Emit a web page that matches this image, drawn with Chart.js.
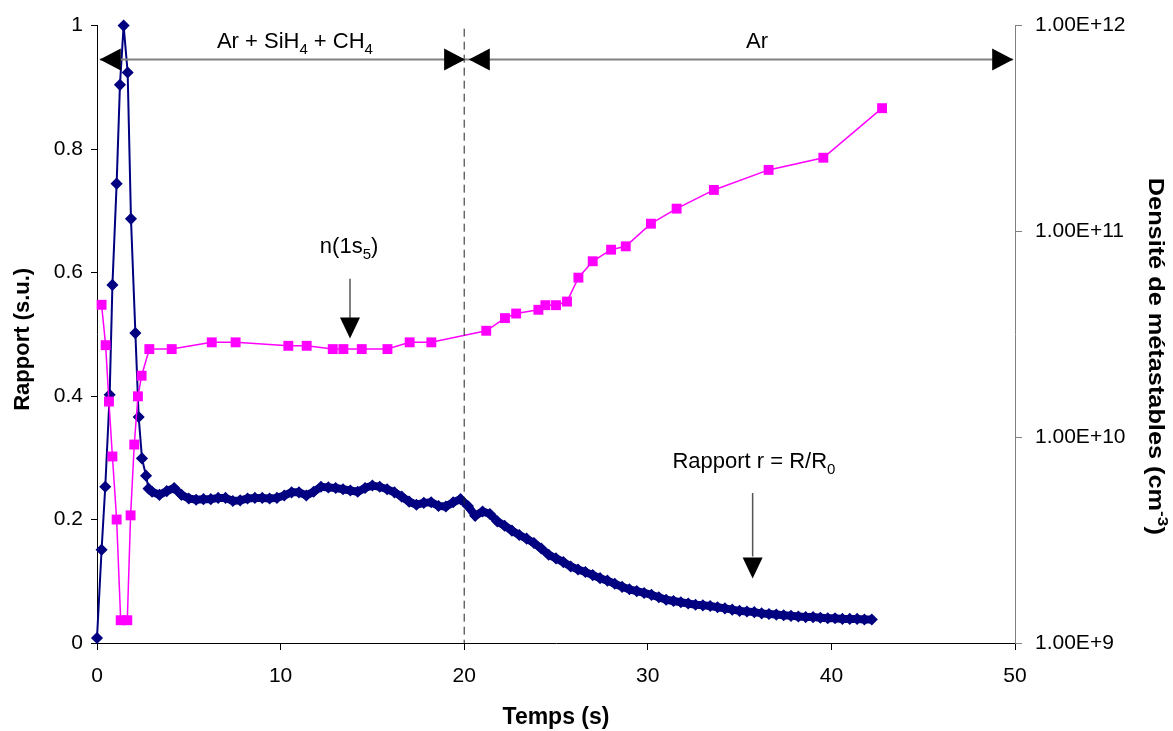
<!DOCTYPE html>
<html>
<head>
<meta charset="utf-8">
<script src="https://cdn.jsdelivr.net/npm/chart.js@4.4.0/dist/chart.umd.min.js"></script>
<style>
  html, body { margin: 0; padding: 0; background: #fff; }
</style>
</head>
<body>
<canvas id="myChart" width="1173" height="731"></canvas>
<script>
// Rapport r = R/R0 (axe de gauche)
const rapportTemps = [
  0.0, 0.25, 0.45, 0.69, 0.84, 1.07, 1.25, 1.45, 1.67, 1.85, 2.09, 2.27, 2.45, 2.67, 2.81,
  3.0, 3.4, 3.8, 4.2, 4.6, 5.0, 5.4, 5.8, 6.2, 6.6,
  7.0, 7.4, 7.8, 8.2, 8.6, 9.0, 9.4, 9.8, 10.2, 10.6,
  11.0, 11.4, 11.8, 12.2, 12.6, 13.0, 13.4, 13.8, 14.2, 14.6,
  15.0, 15.4, 15.8, 16.2, 16.6, 17.0, 17.4, 17.8, 18.2, 18.6,
  19.0, 19.4, 19.8, 20.2, 20.6, 21.0, 21.4, 21.8, 22.2, 22.6,
  23.0, 23.4, 23.8, 24.2, 24.6, 25.0, 25.4, 25.8, 26.2, 26.6,
  27.0, 27.4, 27.8, 28.2, 28.6, 29.0, 29.4, 29.8, 30.2, 30.6,
  31.0, 31.4, 31.8, 32.2, 32.6, 33.0, 33.4, 33.8, 34.2, 34.6,
  35.0, 35.4, 35.8, 36.2, 36.6, 37.0, 37.4, 37.8, 38.2, 38.6,
  39.0, 39.4, 39.8, 40.2, 40.6, 41.0, 41.4, 41.8, 42.2
];
const rapportValeurs = [
  0.008, 0.151, 0.253, 0.402, 0.58, 0.744, 0.904, 1.0, 0.924, 0.687, 0.502, 0.366, 0.299, 0.271, 0.25,
  0.245, 0.240, 0.246, 0.251, 0.240, 0.234, 0.232, 0.233, 0.233, 0.235,
  0.235, 0.230, 0.231, 0.234, 0.235, 0.235, 0.234, 0.235, 0.239, 0.244,
  0.244, 0.239, 0.245, 0.253, 0.252, 0.251, 0.249, 0.247, 0.245, 0.251,
  0.255, 0.253, 0.249, 0.244, 0.237, 0.229, 0.224, 0.227, 0.228, 0.222,
  0.221, 0.228, 0.233, 0.222, 0.206, 0.213, 0.209, 0.197, 0.190, 0.182,
  0.175, 0.169, 0.162, 0.153, 0.143, 0.137, 0.131, 0.124, 0.119, 0.115,
  0.110, 0.105, 0.101, 0.096, 0.091, 0.087, 0.084, 0.081, 0.078, 0.074,
  0.070, 0.068, 0.066, 0.064, 0.062, 0.061, 0.060, 0.058, 0.056, 0.054,
  0.052, 0.051, 0.050, 0.048, 0.047, 0.046, 0.045, 0.044, 0.043, 0.042,
  0.042, 0.041, 0.040, 0.040, 0.039, 0.039, 0.039, 0.038, 0.038
];

// Densite de metastables n(1s5) (axe de droite, log)
const densiteTemps = [
  0.25, 0.47, 0.65, 0.84, 1.07, 1.29, 1.65, 1.83, 2.03, 2.23, 2.43, 2.85, 4.07,
  6.25, 7.55, 10.42, 11.42, 12.84, 13.42, 14.42, 15.82, 17.03, 18.21,
  21.2, 22.22, 22.83, 24.04, 24.42, 25.0, 25.6, 26.22, 27.0, 28.0, 28.8,
  30.17, 31.57, 33.6, 36.58, 39.56, 42.76
];
const densiteValeurs = [
  4.40e10, 2.80e10, 1.49e10, 8.06e9, 3.98e9, 1.29e9, 1.29e9, 4.17e9, 9.21e9, 1.58e10, 1.99e10, 2.68e10, 2.68e10,
  2.89e10, 2.89e10, 2.78e10, 2.78e10, 2.68e10, 2.68e10, 2.68e10, 2.68e10, 2.89e10, 2.89e10,
  3.29e10, 3.79e10, 3.99e10, 4.16e10, 4.38e10, 4.38e10, 4.56e10, 5.96e10, 7.16e10, 8.15e10, 8.46e10,
  1.09e11, 1.29e11, 1.59e11, 1.99e11, 2.28e11, 3.97e11
];

const xTicks = [0, 10, 20, 30, 40, 50];
const yTicksGauche = [0, 0.2, 0.4, 0.6, 0.8, 1];
const yTicksDroite = [1e9, 1e10, 1e11, 1e12];

const FONT = 'Arial, "Liberation Sans", sans-serif';

// texte avec indices / exposants
function drawRich(ctx, parts, x, y, size, bold, align){
  const weight = bold ? 'bold ' : '';
  let total = 0;
  parts.forEach(p => {
    const s = p[1] ? Math.round(size * 0.68) : size;
    ctx.font = weight + s + 'px ' + FONT;
    p.w = ctx.measureText(p[0]).width;
    p.s = s;
    total += p.w;
  });
  let cx = align === 'center' ? x - total / 2 : x;
  ctx.textAlign = 'left';
  ctx.textBaseline = 'alphabetic';
  parts.forEach(p => {
    ctx.font = weight + p.s + 'px ' + FONT;
    let dy = 0;
    if (p[1] === -1) dy = size * 0.28;
    if (p[1] === 1) dy = -size * 0.42;
    ctx.fillText(p[0], cx, y + dy);
    cx += p.w;
  });
}

function triangle(ctx, tipX, tipY, dir, len, half){
  ctx.beginPath();
  ctx.moveTo(tipX, tipY);
  if (dir === 'left') { ctx.lineTo(tipX + len, tipY - half); ctx.lineTo(tipX + len, tipY + half); }
  if (dir === 'right') { ctx.lineTo(tipX - len, tipY - half); ctx.lineTo(tipX - len, tipY + half); }
  if (dir === 'down') { ctx.lineTo(tipX - half, tipY - len); ctx.lineTo(tipX + half, tipY - len); }
  ctx.closePath();
  ctx.fill();
}

const annotations = {
  id: 'annotations',
  afterDatasetsDraw(chart){
    const ctx = chart.ctx, xs = chart.scales.x, ys = chart.scales.y;
    const X = v => xs.getPixelForValue(v), Y = v => ys.getPixelForValue(v);
    ctx.save();
    // ligne pointillee a t = 20 s
    ctx.strokeStyle = '#222';
    ctx.lineWidth = 1;
    ctx.setLineDash([8, 5]);
    ctx.beginPath();
    ctx.moveTo(X(20), Y(0.995));
    ctx.lineTo(X(20), Y(0));
    ctx.stroke();
    ctx.setLineDash([]);

    // fleches horizontales
    const yA = Y(0.945);
    ctx.strokeStyle = '#808080';
    ctx.lineWidth = 2;
    ctx.beginPath();
    ctx.moveTo(X(0.15), yA);
    ctx.lineTo(X(49.9), yA);
    ctx.stroke();
    ctx.fillStyle = '#000';
    triangle(ctx, X(0.15), yA, 'left', 21, 11);
    triangle(ctx, X(20.05), yA, 'right', 21, 11);
    triangle(ctx, X(20.25), yA, 'left', 21, 11);
    triangle(ctx, X(49.9), yA, 'right', 21, 11);

    // fleches verticales
    ctx.strokeStyle = '#555';
    ctx.lineWidth = 1.5;
    ctx.beginPath();
    ctx.moveTo(X(13.78), Y(0.590));
    ctx.lineTo(X(13.78), Y(0.52));
    ctx.moveTo(X(35.71), Y(0.243));
    ctx.lineTo(X(35.71), Y(0.14));
    ctx.stroke();
    triangle(ctx, X(13.78), Y(0.493), 'down', 21, 10);
    triangle(ctx, X(35.71), Y(0.1045), 'down', 21, 10);

    // textes
    ctx.fillStyle = '#000';
    drawRich(ctx, [['Ar + SiH', 0], ['4', -1], [' + CH', 0], ['4', -1]], X(10.78), Y(0.964), 22, false, 'center');
    drawRich(ctx, [['Ar', 0]], X(35.95), Y(0.964), 22, false, 'center');
    drawRich(ctx, [['n(1s', 0], ['5', -1], [')', 0]], X(13.73), Y(0.632), 22, false, 'center');
    drawRich(ctx, [['Rapport r = R/R', 0], ['0', -1]], X(35.78), Y(0.284), 22, false, 'center');
    ctx.restore();
  },
  afterDraw(chart){
    const ctx = chart.ctx, area = chart.chartArea;
    const midY = (area.top + area.bottom) / 2;
    ctx.save();
    ctx.fillStyle = '#000';
    // titre axe x
    drawRich(ctx, [['Temps (s)', 0]], (area.left + area.right) / 2, area.bottom + 81, 23, true, 'center');
    // titre axe gauche
    ctx.save();
    ctx.translate(29, midY + 5);
    ctx.rotate(-Math.PI / 2);
    drawRich(ctx, [['Rapport (s.u.)', 0]], 0, 0, 22, true, 'center');
    ctx.restore();
    // titre axe droit
    ctx.save();
    ctx.translate(1149, midY + 22);
    ctx.rotate(Math.PI / 2);
    ctx.scale(1.15, 1);
    drawRich(ctx, [['Densité de métastables (cm', 0], ['-3', 1], [')', 0]], 0, 0, 22, true, 'center');
    ctx.restore();
    ctx.restore();
  }
};

const rapportPoints = rapportTemps.map((t, i) => ({ x: t, y: rapportValeurs[i] }));
const densitePoints = densiteTemps.map((t, i) => ({ x: t, y: densiteValeurs[i] }));

const config = {
  type: 'scatter',
  data: {
    datasets: [
      {
        label: 'n(1s5)',
        data: densitePoints,
        yAxisID: 'y2',
        showLine: true,
        clip: false,
        borderColor: '#FF00FF',
        backgroundColor: '#FF00FF',
        borderWidth: 1.5,
        pointStyle: 'rect',
        pointRadius: 7,
        pointBorderWidth: 0,
        order: 1
      },
      {
        label: 'Rapport r = R/R0',
        data: rapportPoints,
        yAxisID: 'y',
        showLine: true,
        clip: false,
        borderColor: '#000080',
        backgroundColor: '#000080',
        borderWidth: 2,
        // mesures serrees apres le pic : bande epaisse
        segment: { borderWidth: c => c.p0.parsed.x >= 2.9 ? 8 : 2 },
        pointStyle: 'rectRot',
        pointRadius: 5,
        pointBorderWidth: 1.5,
        order: 2
      }
    ]
  },
  plugins: [annotations],
  options: {
    responsive: false,
    animation: false,
    layout: { padding: { top: 24, bottom: 0, left: 0, right: 0 } },
    plugins: {
      legend: { display: false },
      tooltip: { enabled: false }
    },
    scales: {
      x: {
        type: 'linear',
        min: 0,
        max: 50,
        afterBuildTicks: s => { s.ticks = xTicks.map(v => ({ value: v })); },
        afterFit: s => { s.height = 88; },
        grid: { drawOnChartArea: false, drawTicks: true, tickLength: 7, color: '#000' },
        border: { display: true, color: '#000', width: 1 },
        ticks: { color: '#000', font: { size: 21, family: FONT }, padding: 14, maxRotation: 0 }
      },
      y: {
        type: 'linear',
        position: 'left',
        min: 0,
        max: 1,
        afterBuildTicks: s => { s.ticks = yTicksGauche.map(v => ({ value: v })); },
        afterFit: s => { s.width = 97; },
        grid: { drawOnChartArea: false, drawTicks: true, tickLength: 6, color: '#000' },
        border: { display: true, color: '#000', width: 1 },
        ticks: { color: '#000', font: { size: 21, family: FONT }, padding: 8, callback: v => String(v) }
      },
      y2: {
        type: 'logarithmic',
        position: 'right',
        min: 1e9,
        max: 1e12,
        afterBuildTicks: s => { s.ticks = yTicksDroite.map(v => ({ value: v })); },
        afterFit: s => { s.width = 158; },
        grid: { drawOnChartArea: false, drawTicks: true, tickLength: 7, color: '#808080' },
        border: { display: true, color: '#808080', width: 1 },
        ticks: { color: '#000', font: { size: 21, family: FONT }, padding: 13,
                 callback: v => Number(v).toExponential(2).toUpperCase() }
      }
    }
  }
};

const myChart = new Chart(document.getElementById('myChart'), config);
</script>
</body>
</html>
